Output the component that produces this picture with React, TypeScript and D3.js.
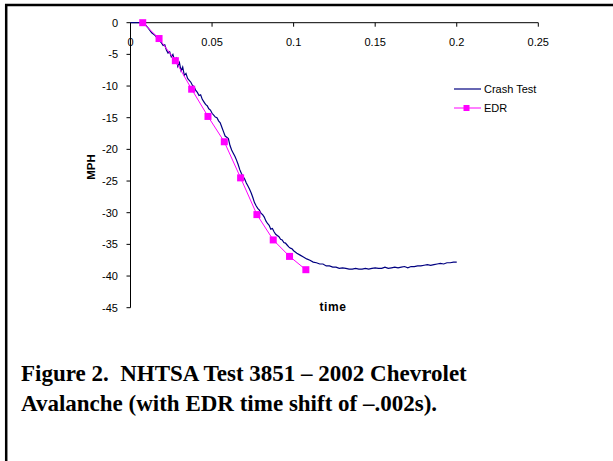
import React from "react";
import * as d3 from "d3";

const crashT = [0,0.007,0.009,0.011,0.013,0.015,0.017,0.019,0.020,0.021,0.022,0.023,0.024,0.025,0.026,0.027,0.028,0.029,0.030,0.031,0.032,0.033,0.034,0.035,0.036,0.037,0.038,0.039,0.040,0.041,0.042,0.043,0.044,0.045,0.046,0.047,0.048,0.049,0.050,0.051,0.052,0.053,0.054,0.055,0.056,0.057,0.058,0.059,0.060,0.061,0.062,0.063,0.064,0.065,0.066,0.067,0.068,0.069,0.070,0.071,0.072,0.073,0.074,0.075,0.076,0.077,0.078,0.079,0.080,0.081,0.082,0.083,0.084,0.085,0.086,0.087,0.088,0.089,0.090,0.091,0.092,0.093,0.094,0.095,0.096,0.097,0.098,0.099,0.100,0.102,0.104,0.106,0.108,0.110,0.112,0.114,0.116,0.118,0.120,0.122,0.124,0.126,0.128,0.130,0.132,0.134,0.136,0.138,0.140,0.142,0.144,0.146,0.148,0.150,0.152,0.154,0.156,0.158,0.160,0.162,0.164,0.166,0.168,0.170,0.172,0.174,0.176,0.178,0.180,0.182,0.184,0.186,0.188,0.190,0.192,0.194,0.196,0.198,0.200];
const crashV = [0,0,-0.3,-0.9,-1.6,-2.0,-2.6,-3.2,-3.6,-3.5,-4.3,-4.8,-4.6,-5.4,-5.0,-5.9,-5.6,-6.9,-6.3,-7.6,-7.0,-8.3,-8.0,-8.8,-9.1,-9.4,-9.9,-10.1,-10.7,-11.0,-11.5,-11.4,-12.1,-12.5,-12.9,-13.1,-13.6,-13.8,-14.3,-14.6,-14.9,-15.0,-15.5,-15.8,-16.5,-17.2,-17.9,-18.1,-18.3,-19.4,-20.1,-20.6,-21.1,-21.7,-22.4,-23.2,-23.8,-24.3,-24.7,-25.3,-25.8,-26.3,-26.9,-27.6,-28.4,-28.9,-29.3,-29.6,-30.1,-30.3,-30.7,-31.3,-31.7,-32.0,-32.6,-32.5,-33.0,-33.4,-33.6,-33.8,-34.2,-34.3,-34.7,-34.8,-35.1,-35.4,-35.6,-35.7,-36.0,-36.4,-36.7,-37.0,-37.3,-37.5,-37.8,-37.9,-38.1,-38.1,-38.4,-38.4,-38.6,-38.6,-38.8,-38.7,-38.8,-38.9,-38.9,-38.8,-38.9,-38.9,-38.8,-38.9,-38.8,-38.7,-38.8,-38.8,-38.6,-38.8,-38.7,-38.6,-38.7,-38.6,-38.5,-38.7,-38.5,-38.5,-38.4,-38.4,-38.3,-38.2,-38.3,-38.2,-38.1,-38.0,-38.1,-37.9,-37.9,-37.8,-37.8];

const edrT = [0.0075,0.0175,0.0275,0.0375,0.0475,0.0575,0.0675,0.0775,0.0875,0.0975,0.1075];
const edrV = [0,-2.5,-6.0,-10.5,-14.8,-18.8,-24.5,-30.3,-34.3,-36.9,-39.0];

const xTicks = [0,0.05,0.1,0.15,0.2,0.25];
const yTicks = [0,-5,-10,-15,-20,-25,-30,-35,-40,-45];
const seriesNames = ["Crash Test","EDR"];
const caption = ["Figure 2.  NHTSA Test 3851 \u2013 2002 Chevrolet","Avalanche (with EDR time shift of \u2013.002s)."];

export default function App() {
  const x = d3.scaleLinear().domain([0, 0.25]).range([130.5, 538.3]);
  const y = d3.scaleLinear().domain([0, -45]).range([22.7, 307.7]);
  const line = d3.line<[number, number]>().x(d => x(d[0])).y(d => y(d[1]));
  const crash: [number, number][] = crashT.map((t, i) => [t, crashV[i]]);
  const edr: [number, number][] = edrT.map((t, i) => [t, edrV[i]]);
  const sans = "Arial, 'Liberation Sans', sans-serif";
  const serif = "'Times New Roman', 'Liberation Serif', serif";
  return (
    <svg width={613} height={461} style={{ position: "absolute", left: 0, top: 0, background: "#fff" }}>
      <rect x={0} y={0} width={613} height={461} fill="#fff" />
      <line x1={5} y1={5} x2={613} y2={5} stroke="#000" strokeWidth={2.5} />
      <line x1={6.2} y1={4} x2={6.2} y2={461} stroke="#000" strokeWidth={2.5} />
      <line x1={x(0)} y1={y(0)} x2={x(0.25)} y2={y(0)} stroke="#000" strokeWidth={1} />
      <line x1={x(0)} y1={y(0)} x2={x(0)} y2={y(-45)} stroke="#000" strokeWidth={1} />
      {xTicks.map(t => (
        <g key={"x" + t}>
          <line x1={x(t)} y1={y(0)} x2={x(t)} y2={y(0) + 4} stroke="#000" />
          <text x={x(t)} y={46} textAnchor="middle" fontFamily={sans} fontSize={11} fill="#000">{String(t)}</text>
        </g>
      ))}
      {yTicks.map(v => (
        <g key={"y" + v}>
          <line x1={x(0) - 4} y1={y(v)} x2={x(0)} y2={y(v)} stroke="#000" />
          <text x={118} y={y(v) + 4} textAnchor="end" fontFamily={sans} fontSize={11} fill="#000">{String(v)}</text>
        </g>
      ))}
      <text transform="translate(95,167) rotate(-90)" textAnchor="middle" fontFamily={sans} fontSize={11.5} fontWeight="bold">MPH</text>
      <text x={333} y={311} textAnchor="middle" fontFamily={sans} fontSize={12} fontWeight="bold" letterSpacing={0.6}>time</text>
      <path d={line(crash) || ""} fill="none" stroke="#000080" strokeWidth={1.2} />
      <path d={line(edr) || ""} fill="none" stroke="#FF00FF" strokeWidth={1} />
      {edr.map((d, i) => (
        <rect key={i} x={x(d[0]) - 3.5} y={y(d[1]) - 3.5} width={7} height={7} fill="#FF00FF" />
      ))}
      <line x1={454} y1={89} x2={481} y2={89} stroke="#000080" strokeWidth={1.2} />
      <text x={484} y={92.7} fontFamily={sans} fontSize={11}>{seriesNames[0]}</text>
      <line x1={454} y1={108} x2={481} y2={108} stroke="#FF00FF" strokeWidth={1} />
      <rect x={463.5} y={105} width={6} height={6} fill="#FF00FF" />
      <text x={484} y={111.7} fontFamily={sans} fontSize={11}>{seriesNames[1]}</text>
      <text x={21} y={381} fontFamily={serif} fontSize={23} fontWeight="bold" style={{ whiteSpace: "pre" }}>{caption[0]}</text>
      <text x={21} y={411} fontFamily={serif} fontSize={23} fontWeight="bold" style={{ whiteSpace: "pre" }}>{caption[1]}</text>
    </svg>
  );
}
